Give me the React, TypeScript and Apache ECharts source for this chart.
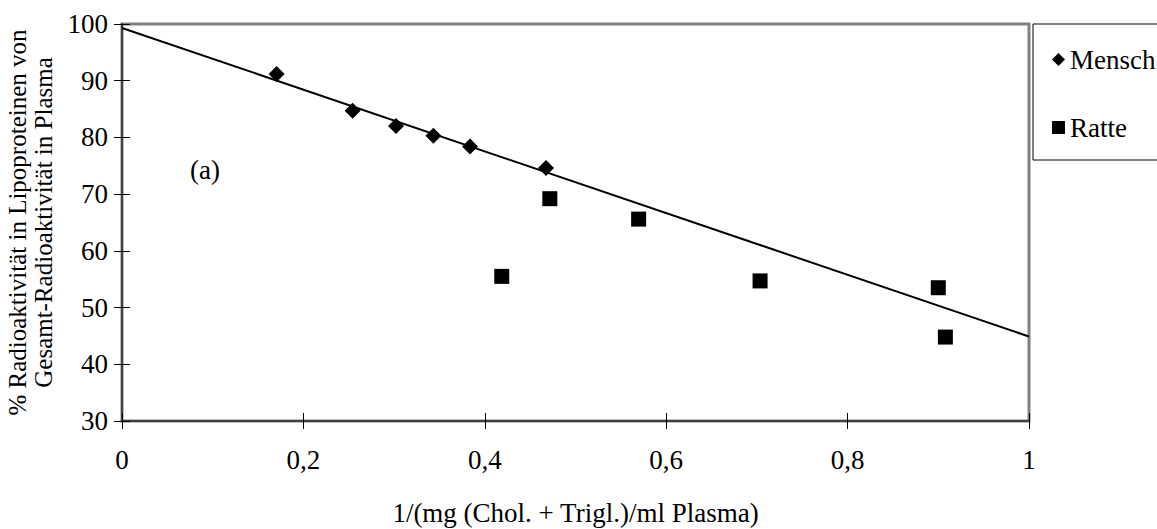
import React, { useEffect, useRef } from "react";
import * as echarts from "echarts";

// Mensch (human) measurements
const menschX = [0.1705, 0.2543, 0.3021, 0.3433, 0.3837, 0.4675];
const menschY = [91.2, 84.7, 82.0, 80.3, 78.4, 74.6];

// Ratte (rat) measurements
const ratteX = [0.4187, 0.4717, 0.5696, 0.7035, 0.9, 0.9078];
const ratteY = [55.5, 69.2, 65.6, 54.7, 53.5, 44.8];

// Linear trend line end points
const trendX = [0, 1];
const trendY = [99.3, 44.9];

const xMin = 0;
const xMax = 1;
const xStep = 0.2;
const yMin = 30;
const yMax = 100;
const yStep = 10;

const FONT = "'Liberation Serif', 'Times New Roman', serif";
const FS = 27;

const zip = (xs: number[], ys: number[]) => xs.map((x, i) => [x, ys[i]]);

export default function App() {
  const ref = useRef<HTMLDivElement>(null);

  useEffect(() => {
    if (!ref.current) return;
    const chart = echarts.init(ref.current, undefined, { renderer: "svg" });

    const fmtX = (v: number) => String(Math.round(v * 10) / 10).replace(".", ",");

    const option: any = {
      animation: false,
      backgroundColor: "#ffffff",
      textStyle: { fontFamily: FONT, color: "#000" },
      grid: {
        left: 122,
        top: 24,
        width: 907,
        height: 397,
        containLabel: false,
        outerBoundsMode: "none",
        show: true,
        borderColor: "#808080",
        borderWidth: 3,
        backgroundColor: "transparent",
      },
      legend: {
        orient: "vertical",
        left: 1033,
        top: 24,
        data: [
          { name: "Mensch", icon: "diamond" },
          { name: "Ratte", icon: "rect" },
        ],
        itemWidth: 13,
        itemHeight: 13,
        itemGap: 41,
        padding: [22, 40, 19, 19],
        borderColor: "#000",
        borderWidth: 1,
        textStyle: { fontFamily: FONT, fontSize: FS, color: "#000" },
      },
      xAxis: [
        {
          type: "value",
          min: xMin,
          max: xMax,
          interval: xStep,
          position: "bottom",
          axisLine: { show: true, onZero: false, lineStyle: { color: "#404040", width: 2 } },
          axisTick: { show: true, length: 8, lineStyle: { color: "#000", width: 1 } },
          axisLabel: { margin: 25, fontSize: FS, color: "#000", fontFamily: FONT, formatter: fmtX },
          splitLine: { show: false },
          name: "1/(mg (Chol. + Trigl.)/ml Plasma)",
          nameLocation: "middle",
          nameGap: 78,
          nameTextStyle: { fontSize: FS, color: "#000", fontFamily: FONT },
        },
        {
          type: "value",
          min: xMin,
          max: xMax,
          interval: xStep,
          position: "bottom",
          axisLine: { show: false },
          axisTick: { show: true, inside: true, length: 8, lineStyle: { color: "#000", width: 1 } },
          axisLabel: { show: false },
          splitLine: { show: false },
        },
      ],
      yAxis: [
        {
          type: "value",
          min: yMin,
          max: yMax,
          interval: yStep,
          position: "left",
          axisLine: { show: true, onZero: false, lineStyle: { color: "#404040", width: 2 } },
          axisTick: { show: true, length: 8, lineStyle: { color: "#000", width: 1 } },
          axisLabel: { margin: 14, fontSize: FS, color: "#000", fontFamily: FONT },
          splitLine: { show: false },
          name: "% Radioaktivität in Lipoproteinen von\nGesamt-Radioaktivität in Plasma",
          nameLocation: "middle",
          nameGap: 55,
          nameTextStyle: { fontSize: 25, lineHeight: 26, color: "#000", fontFamily: FONT },
        },
        {
          type: "value",
          min: yMin,
          max: yMax,
          interval: yStep,
          position: "left",
          axisLine: { show: false },
          axisTick: { show: true, inside: true, length: 8, lineStyle: { color: "#000", width: 1 } },
          axisLabel: { show: false },
          splitLine: { show: false },
        },
      ],
      graphic: [
        {
          type: "text",
          x: 205,
          y: 170,
          style: {
            text: "(a)",
            font: `${FS}px ${FONT}`,
            fill: "#000",
            align: "center",
            verticalAlign: "middle",
          },
        },
      ],
      series: [
        {
          name: "Trend",
          type: "line",
          data: zip(trendX, trendY),
          showSymbol: false,
          symbol: "none",
          lineStyle: { color: "#000", width: 2 },
          z: 1,
          silent: true,
        },
        {
          name: "Mensch",
          type: "scatter",
          data: zip(menschX, menschY),
          symbol: "diamond",
          symbolSize: 16,
          itemStyle: { color: "#000", opacity: 1 },
          z: 3,
        },
        {
          name: "Ratte",
          type: "scatter",
          data: zip(ratteX, ratteY),
          symbol: "rect",
          symbolSize: 15,
          itemStyle: { color: "#000", opacity: 1 },
          z: 3,
        },
      ],
    };

    chart.setOption(option);
    return () => chart.dispose();
  }, []);

  return (
    <div
      ref={ref}
      style={{ position: "absolute", left: 0, top: 0, width: 1157, height: 529, background: "#fff" }}
    />
  );
}
